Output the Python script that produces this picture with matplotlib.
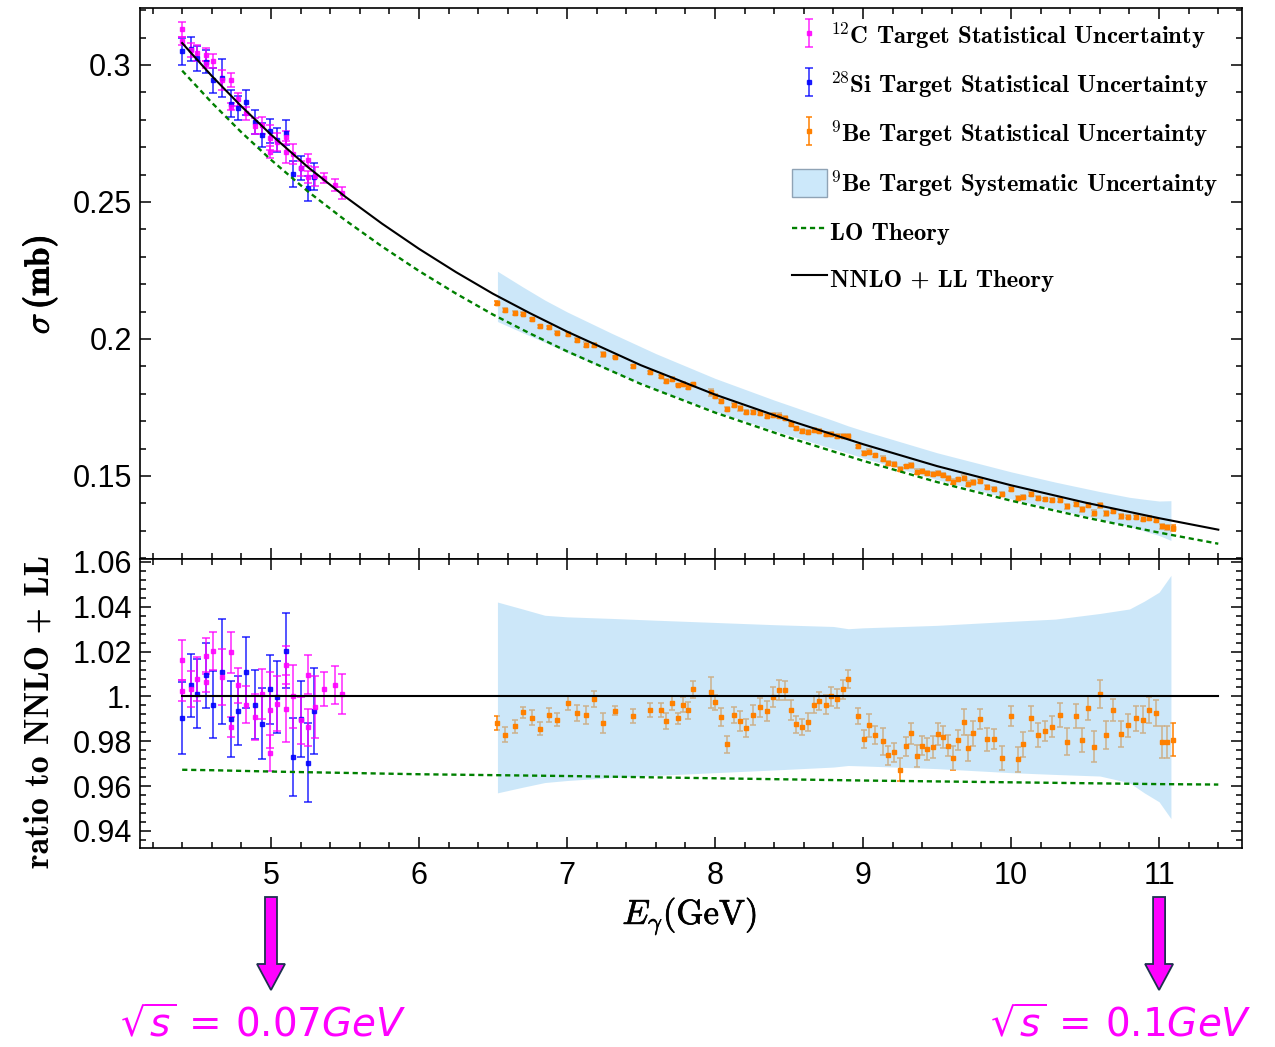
import numpy as np
import matplotlib
matplotlib.use("Agg")
import matplotlib.pyplot as plt
from matplotlib.ticker import MultipleLocator, FuncFormatter
from matplotlib.patches import Patch, FancyArrow
from matplotlib.legend_handler import HandlerErrorbar
import matplotlib.patheffects as pe

plt.rcParams['mathtext.fontset'] = 'cm'
plt.rcParams['font.family'] = ['Liberation Sans', 'DejaVu Sans']

# ---------------- theory curves ----------------
E_th = [4.4, 4.6, 4.8, 5.0, 5.25, 5.5, 5.75, 6.0, 6.25, 6.5, 6.75, 7.0, 7.5, 8.0, 8.5, 9.0,
        9.5, 10.0, 10.5, 11.0, 11.4]
nnlo_th = [0.3080, 0.2960, 0.2849, 0.2746, 0.2627, 0.2520, 0.2421, 0.2329, 0.2244, 0.2165,
           0.2094, 0.2027, 0.1904, 0.1797, 0.1703, 0.1616, 0.1536, 0.1466, 0.1403, 0.1346, 0.1304]
lo_ratio_th = [0.9673, 0.9671, 0.9668, 0.9665, 0.9662, 0.9659, 0.9656, 0.9653, 0.9651, 0.9649,
               0.9647, 0.9645, 0.9640, 0.9635, 0.9630, 0.9625, 0.9621, 0.9617, 0.9613, 0.9609, 0.9607]

# ---------------- 9Be systematic band (ratio to NNLO+LL) ----------------
E_band = [6.53, 6.70, 6.85, 7.00, 7.30, 7.60, 8.00, 8.40, 8.80, 8.90, 9.00, 9.50, 10.00, 10.30,
          10.60, 10.80, 10.90, 11.00, 11.08]
band_hi = [1.0421, 1.0390, 1.0362, 1.0355, 1.0348, 1.0340, 1.0330, 1.0320, 1.0312, 1.0302, 1.0306,
           1.0317, 1.0335, 1.0345, 1.0370, 1.0390, 1.0425, 1.0465, 1.0540]
band_lo = [0.9570, 0.9595, 0.9616, 0.9625, 0.9638, 0.9648, 0.9660, 0.9672, 0.9685, 0.9692, 0.9690,
           0.9678, 0.9660, 0.9652, 0.9645, 0.9615, 0.9570, 0.9530, 0.9455]

# ---------------- 12C data (ratio to NNLO+LL) ----------------
C_E = [4.40, 4.40, 4.46, 4.50, 4.56, 4.56, 4.61, 4.67, 4.73, 4.73, 4.78, 4.83, 4.89, 4.94,
       4.99, 4.99, 5.04, 5.10, 5.10, 5.15, 5.20, 5.25, 5.25, 5.30, 5.36, 5.43, 5.48]
C_r = [1.0161, 1.0025, 1.0034, 1.0078, 1.0179, 1.0064, 1.0201, 1.0086, 1.0196, 0.9863, 1.0049,
       0.9963, 0.9908, 1.0012, 0.9747, 0.9940, 0.9967, 1.0141, 0.9945, 1.0000, 0.9893, 1.0097,
       0.9863, 0.9952, 1.0033, 1.0051, 1.0012]
C_err = [0.0089, 0.0047, 0.0081, 0.0098, 0.0080, 0.0043, 0.0085, 0.0126, 0.0090, 0.0045, 0.0080,
         0.0083, 0.0102, 0.0112, 0.0081, 0.0168, 0.0122, 0.0086, 0.0150, 0.0140, 0.0106, 0.0086,
         0.0083, 0.0138, 0.0074, 0.0084, 0.0089]

# ---------------- 28Si data (ratio to NNLO+LL) ----------------
Si_E = [4.40, 4.46, 4.50, 4.56, 4.61, 4.67, 4.73, 4.78, 4.83, 4.89, 4.94, 4.99, 5.04, 5.10,
        5.15, 5.20, 5.25, 5.29]
Si_r = [0.9903, 1.0049, 1.0013, 1.0094, 0.9964, 1.0110, 0.9900, 0.9937, 1.0107, 0.9964, 0.9878,
        1.0031, 0.9996, 1.0204, 0.9730, 0.9900, 0.9705, 0.9935]
Si_err = [0.0161, 0.0140, 0.0153, 0.0144, 0.0151, 0.0235, 0.0170, 0.0153, 0.0160, 0.0156, 0.0158,
          0.0155, 0.0160, 0.0168, 0.0173, 0.0169, 0.0176, 0.0193]

# ---------------- 9Be data (ratio to NNLO+LL) ----------------
Be_E = [6.529, 6.583, 6.648, 6.705, 6.761, 6.817, 6.880, 6.935, 7.009, 7.065,
        7.126, 7.185, 7.245, 7.324, 7.446, 7.563, 7.637, 7.669, 7.707, 7.750,
        7.786, 7.817, 7.853, 7.973, 8.002, 8.038, 8.083, 8.126, 8.166, 8.207,
        8.256, 8.304, 8.351, 8.394, 8.432, 8.471, 8.511, 8.549, 8.588, 8.630,
        8.669, 8.705, 8.750, 8.786, 8.822, 8.862, 8.899, 8.964, 9.009, 9.043,
        9.083, 9.133, 9.167, 9.207, 9.248, 9.290, 9.324, 9.365, 9.398, 9.435,
        9.471, 9.507, 9.543, 9.572, 9.608, 9.639, 9.680, 9.712, 9.745, 9.790,
        9.835, 9.885, 9.941, 9.999, 10.045, 10.083, 10.133, 10.180, 10.232, 10.279,
        10.329, 10.380, 10.439, 10.482, 10.522, 10.563, 10.601, 10.640, 10.689, 10.743,
        10.793, 10.842, 10.892, 10.934, 10.977, 11.018, 11.056, 11.094]
Be_r = [0.9881, 0.9830, 0.9866, 0.9929, 0.9906, 0.9856, 0.9917, 0.9896, 0.9970, 0.9927,
        0.9917, 0.9988, 0.9882, 0.9936, 0.9912, 0.9940, 0.9938, 0.9891, 0.9969, 0.9902,
        0.9963, 0.9938, 1.0031, 1.0018, 0.9973, 0.9908, 0.9786, 0.9917, 0.9890, 0.9860,
        0.9917, 0.9952, 0.9936, 0.9996, 1.0027, 1.0027, 0.9940, 0.9875, 0.9862, 0.9884,
        0.9963, 0.9979, 0.9964, 1.0000, 0.9990, 1.0031, 1.0079, 0.9912, 0.9811, 0.9872,
        0.9829, 0.9801, 0.9737, 0.9750, 0.9674, 0.9777, 0.9835, 0.9735, 0.9781, 0.9766,
        0.9774, 0.9833, 0.9817, 0.9781, 0.9726, 0.9807, 0.9887, 0.9769, 0.9835, 0.9900,
        0.9808, 0.9811, 0.9726, 0.9912, 0.9719, 0.9786, 0.9902, 0.9827, 0.9845, 0.9865,
        0.9918, 0.9798, 0.9912, 0.9805, 0.9949, 0.9775, 1.0010, 0.9829, 0.9940, 0.9833,
        0.9871, 0.9902, 0.9897, 0.9940, 0.9924, 0.9798, 0.9795, 0.9807]
Be_err = [0.0032, 0.0032, 0.0029, 0.0024, 0.0033, 0.0029, 0.0033, 0.0029, 0.0031, 0.0035,
          0.0039, 0.0036, 0.0046, 0.0021, 0.0030, 0.0030, 0.0031, 0.0035, 0.0031, 0.0025,
          0.0034, 0.0038, 0.0037, 0.0069, 0.0032, 0.0042, 0.0038, 0.0036, 0.0045, 0.0039,
          0.0045, 0.0042, 0.0044, 0.0045, 0.0045, 0.0042, 0.0045, 0.0039, 0.0036, 0.0040,
          0.0038, 0.0040, 0.0041, 0.0042, 0.0041, 0.0041, 0.0041, 0.0036, 0.0041, 0.0051,
          0.0041, 0.0060, 0.0041, 0.0043, 0.0050, 0.0042, 0.0048, 0.0048, 0.0041, 0.0050,
          0.0048, 0.0048, 0.0049, 0.0048, 0.0055, 0.0045, 0.0059, 0.0057, 0.0057, 0.0045,
          0.0051, 0.0046, 0.0053, 0.0045, 0.0054, 0.0054, 0.0054, 0.0054, 0.0045, 0.0046,
          0.0054, 0.0061, 0.0054, 0.0054, 0.0055, 0.0069, 0.0063, 0.0063, 0.0048, 0.0057,
          0.0050, 0.0056, 0.0059, 0.0057, 0.0058, 0.0071, 0.0071, 0.0073]

x_ticks = [5, 6, 7, 8, 9, 10, 11]
y1_ticks = [0.15, 0.2, 0.25, 0.3]
y2_ticks = [0.94, 0.96, 0.98, 1.0, 1.02, 1.04, 1.06]

legend_labels = [r'$^{12}$C Target Statistical Uncertainty',
                 r'$^{28}$Si Target Statistical Uncertainty',
                 r'$^{9}$Be Target Statistical Uncertainty',
                 r'$^{9}$Be Target Systematic Uncertainty',
                 'LO Theory',
                 r'NNLO + LL Theory']

# ---------------- derived ----------------
E_th_a = np.asarray(E_th)
nnlo_a = np.asarray(nnlo_th)
lo_a = nnlo_a * np.asarray(lo_ratio_th)


def nnlo_at(e):
    return np.interp(np.asarray(e), E_th_a, nnlo_a)


C_col = '#FF00FF'
Si_col = '#0000FF'
Be_col = '#FF8000'
band_col = (0.65, 0.84, 0.96)
band_alpha = 0.57
lo_col = '#008000'

fig = plt.figure(figsize=(12.75, 10.47), dpi=100)
ax1 = fig.add_axes([0.1098, 0.4661, 0.8643, 0.52626])
ax2 = fig.add_axes([0.1098, 0.19006, 0.8643, 0.27604])

# ----- upper panel -----
s_band = nnlo_at(E_band)
ax1.fill_between(E_band, np.asarray(band_lo) * s_band, np.asarray(band_hi) * s_band,
                 color=band_col, alpha=band_alpha, lw=0, zorder=2)
sBe = nnlo_at(Be_E)
h_be = ax1.errorbar(Be_E, np.asarray(Be_r) * sBe, yerr=np.asarray(Be_err) * sBe, fmt='s', ms=2.6,
                    color=Be_col, ecolor=Be_col, elinewidth=1.1, capsize=2.4, capthick=1.1, zorder=1)
ax1.plot(Be_E, np.asarray(Be_r) * sBe, 's', ms=2.6, color=Be_col, zorder=3)
sSi = nnlo_at(Si_E)
h_si = ax1.errorbar(Si_E, np.asarray(Si_r) * sSi, yerr=np.asarray(Si_err) * sSi, fmt='s', ms=2.6,
                    color=Si_col, ecolor=Si_col, elinewidth=1.1, capsize=3.0, capthick=1.1, alpha=0.85, zorder=3)
sC = nnlo_at(C_E)
h_c = ax1.errorbar(C_E, np.asarray(C_r) * sC, yerr=np.asarray(C_err) * sC, fmt='s', ms=2.6,
                   color=C_col, ecolor=C_col, elinewidth=1.1, capsize=3.0, capthick=1.1, alpha=0.85, zorder=3)
h_nnlo, = ax1.plot(E_th, nnlo_a, color='black', lw=1.5, zorder=5)
h_lo, = ax1.plot(E_th, lo_a, color=lo_col, lw=1.7, ls=(0, (2.2, 1.6)), zorder=5)

# ----- lower panel -----
ax2.fill_between(E_band, band_lo, band_hi, color=band_col, alpha=band_alpha, lw=0, zorder=2)
ax2.errorbar(Be_E, Be_r, yerr=Be_err, fmt='none', ecolor=Be_col, elinewidth=1.1, capsize=2.4,
             capthick=1.1, zorder=1)
ax2.plot(Be_E, Be_r, 's', ms=2.6, color=Be_col, zorder=3)
ax2.errorbar(Si_E, Si_r, yerr=Si_err, fmt='s', ms=2.6, color=Si_col, ecolor=Si_col,
             elinewidth=1.1, capsize=3.0, capthick=1.1, alpha=0.85, zorder=3)
ax2.errorbar(C_E, C_r, yerr=C_err, fmt='s', ms=2.6, color=C_col, ecolor=C_col,
             elinewidth=1.1, capsize=3.0, capthick=1.1, alpha=0.85, zorder=3)
ax2.plot(E_th, nnlo_a / nnlo_a, color='black', lw=1.5, zorder=5)
ax2.plot(E_th, lo_ratio_th, color=lo_col, lw=1.7, ls=(0, (2.2, 1.6)), zorder=5)

# ----- axes styling -----
for ax in (ax1, ax2):
    ax.set_xlim(4.115, 11.56)
    ax.set_xticks(x_ticks)
    ax.xaxis.set_minor_locator(MultipleLocator(0.2))
    ax.tick_params(which='both', direction='in', top=True, right=True, width=1.1)
    ax.tick_params(which='major', length=8, labelsize=22, pad=6)
    ax.tick_params(which='minor', length=4)
    for sp in ax.spines.values():
        sp.set_linewidth(1.2)

ax1.set_ylim(0.1197, 0.3208)
ax1.set_yticks(y1_ticks)
ax1.yaxis.set_minor_locator(MultipleLocator(0.01))
ax1.yaxis.set_major_formatter(FuncFormatter(lambda v, p: '%g' % v))
ax1.tick_params(labelbottom=False)

ax2.set_ylim(0.9324, 1.0613)
ax2.set_yticks(y2_ticks)
ax2.yaxis.set_minor_locator(MultipleLocator(0.004))
ax2.yaxis.set_major_formatter(FuncFormatter(lambda v, p: '1.' if abs(v - 1) < 1e-9 else '%g' % v))
ax2.tick_params(axis='x', pad=9)

# ----- legend -----
band_patch = Patch(facecolor='#CCE8FA', edgecolor='#8FA3B5', lw=1.0)
leg = ax1.legend([h_c, h_si, h_be, band_patch, h_lo, h_nnlo], legend_labels,
                 loc='upper left', bbox_to_anchor=(0.5917, 0.977), frameon=False,
                 prop={'family': 'cmb10', 'size': 17.8}, handlelength=1.4, handleheight=1.4,
                 handletextpad=0.12, labelspacing=0.75, borderpad=0, borderaxespad=0,
                 handler_map={type(h_c): HandlerErrorbar(yerr_size=0.57)})

# ----- axis labels -----
fig.text(0.031, 0.728, r'$\sigma\,$(mb)', rotation=90, ha='center', va='center',
         family='cmb10', fontsize=25,
         path_effects=[pe.withStroke(linewidth=0.6, foreground='black')])
fig.text(0.031, 0.32, 'ratio to NNLO + LL', rotation=90, ha='center', va='center',
         family='cmb10', fontsize=24.5)
fig.text(0.541, 0.125, r'$E_{\gamma}$(GeV)', ha='center', va='center', family='cmr10',
         fontsize=25, path_effects=[pe.withStroke(linewidth=0.5, foreground='black')])

# ----- arrows and annotations -----
for xa in (x_ticks[0], x_ticks[-1]):
    xp = ax2.transData.transform((xa, 1.0))[0] / fig.dpi
    arr = FancyArrow(xp, 1.50, 0, -0.93, width=0.12, head_width=0.28, head_length=0.26,
                     length_includes_head=True, facecolor='#FF00FF', edgecolor='#1F3050',
                     lw=1.3, transform=fig.dpi_scale_trans)
    fig.add_artist(arr)

fig.text(0.094, 0.021, r'$\sqrt{s}\,=\,0.07\mathit{GeV}$', color='#FF00FF', fontsize=28,
         ha='left', va='center', math_fontfamily='dejavusans')
fig.text(0.982, 0.021, r'$\sqrt{s}\,=\,0.1\mathit{GeV}$', color='#FF00FF', fontsize=28,
         ha='right', va='center', math_fontfamily='dejavusans')

fig.savefig('out.png', dpi=100)
